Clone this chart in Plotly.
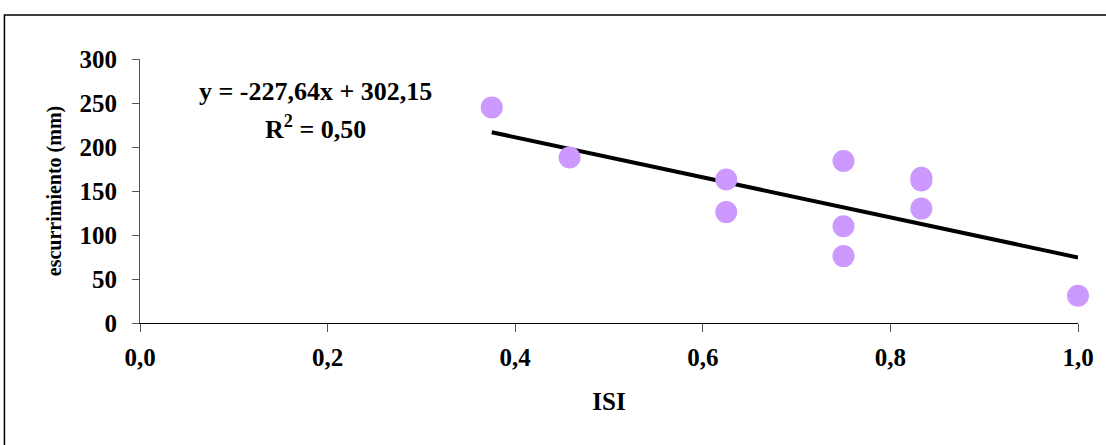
import plotly.graph_objects as go

# Data
isi = [0.375, 0.458, 0.625, 0.625, 0.75, 0.75, 0.75, 0.833, 0.833, 0.833, 1.0]
escurrimiento = [245, 188, 163, 126, 184, 110, 76, 165, 162, 130, 31]
trend_slope = -227.64
trend_intercept = 302.15
x_ticks = [0.0, 0.2, 0.4, 0.6, 0.8, 1.0]
y_ticks = [0, 50, 100, 150, 200, 250, 300]

FONT = "Liberation Serif"
FS = 25

x_line = [min(isi), max(isi)]
y_line = [trend_slope * v + trend_intercept for v in x_line]

fig = go.Figure()
fig.add_trace(go.Scatter(
    x=x_line, y=y_line, mode="lines",
    line=dict(color="black", width=4),
    showlegend=False, hoverinfo="skip", cliponaxis=False,
))
fig.add_trace(go.Scatter(
    x=isi, y=escurrimiento, mode="markers",
    marker=dict(size=22, color="#CC99FF", line=dict(width=0)),
    showlegend=False, cliponaxis=False,
))

fig.add_annotation(
    x=0.187, y=263, xref="x", yref="y", showarrow=False,
    text="y = -227,64x + 302,15",
    font=dict(family=FONT, size=26, color="black", weight="bold"),
)
fig.add_annotation(
    x=0.187, y=222, xref="x", yref="y", showarrow=False,
    text="R<sup>2</sup> = 0,50",
    font=dict(family=FONT, size=26, color="black", weight="bold"),
)

# outer frame (top and left visible)
fig.add_shape(type="rect", xref="paper", yref="paper",
              x0=-136 / 941, x1=1.2, y0=-0.6, y1=1 + 44 / 264,
              line=dict(color="black", width=1.5), layer="below")

fig.update_layout(
    width=1106, height=445,
    margin=dict(l=140, r=25, t=59, b=122),
    paper_bgcolor="white", plot_bgcolor="white",
    separators=",.",
    font=dict(family=FONT, color="black"),
    xaxis=dict(
        range=[0, 1.0], tickvals=x_ticks, tickformat=".1f",
        showgrid=False, zeroline=False,
        showline=True, linecolor="black", linewidth=1.2,
        ticks="outside", ticklen=8, tickcolor="#555", tickwidth=1,
        tickfont=dict(family=FONT, size=FS, weight="bold"),
        ticklabelstandoff=4,
        title=dict(text="ISI", font=dict(family=FONT, size=FS, weight="bold"), standoff=22),
    ),
    yaxis=dict(
        range=[0, 300], tickvals=y_ticks,
        showgrid=False, zeroline=False,
        showline=True, linecolor="#555", linewidth=1,
        ticks="outside", ticklen=7, tickcolor="#555", tickwidth=1,
        tickfont=dict(family=FONT, size=FS, weight="bold"),
        ticklabelstandoff=10,
        title=dict(text="escurrimiento (mm)", font=dict(family=FONT, size=20, weight="bold"), standoff=12),
    ),
)

fig.write_html("out.html", config={"displayModeBar": False},
               post_script="document.body.style.margin='0';")
